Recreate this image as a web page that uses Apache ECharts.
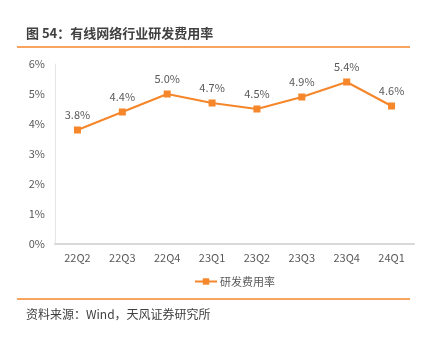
<!DOCTYPE html>
<html><head><meta charset="utf-8">
<script src="https://cdn.jsdelivr.net/npm/echarts@6/dist/echarts.min.js"></script>
<style>html,body{margin:0;padding:0;background:#fff}#c{width:424px;height:340px}</style>
</head><body><div id="c"></div>
<script>
const categories = ['22Q2','22Q3','22Q4','23Q1','23Q2','23Q3','23Q4','24Q1'];
const rdRate = [3.8, 4.4, 5.0, 4.7, 4.5, 4.9, 5.4, 4.6];
const seriesName = '研发费用率';
const titleText = '图 54：有线网络行业研发费用率';
const sourceText = '资料来源：Wind，天风证券研究所';
const font = '"Noto Sans CJK SC","Noto Sans",sans-serif';
const orange = '#F5862A';
const chart = echarts.init(document.getElementById('c'));
chart.setOption({
  animation: false,
  graphic: [
    {type:'text', left:26, top:27, style:{text:titleText, font:'bold 13px '+font, fill:'#404040'}},
    {type:'line', shape:{x1:17,y1:47,x2:410,y2:47}, style:{stroke:orange,lineWidth:1.5}},
    {type:'line', shape:{x1:17,y1:299,x2:410,y2:299}, style:{stroke:orange,lineWidth:1.5}},
    {type:'text', left:26, top:308, style:{text:sourceText, font:'12px '+font, fill:'#404040'}}
  ],
  legend: {data:[seriesName], left:189, top:271, itemWidth:22, itemHeight:8, itemGap:4,
    textStyle:{color:'#595959', fontSize:11, fontFamily:font, padding:[0,0,0,-2]}},
  grid: {left:55, right:10, top:64, bottom:96},
  xAxis: {type:'category', data:categories, boundaryGap:true,
    axisLine:{lineStyle:{color:'#d9d9d9', width:2}}, axisTick:{show:false},
    axisLabel:{color:'#595959', fontSize:11, fontFamily:font, margin:8}},
  yAxis: {type:'value', min:0, max:6, interval:1,
    axisLine:{show:true, lineStyle:{color:'#e6e6e6'}}, splitLine:{show:false},
    axisLabel:{formatter:'{value}%', color:'#595959', fontSize:11, fontFamily:font, margin:10}},
  series: [{name:seriesName, type:'line', data:rdRate, symbol:'rect', symbolSize:7,
    lineStyle:{color:orange, width:2}, itemStyle:{color:orange},
    label:{show:true, position:'top', distance:6, formatter:p=>p.value.toFixed(1)+'%', color:'#595959', fontSize:11, fontFamily:font}}]
});
</script></body></html>
